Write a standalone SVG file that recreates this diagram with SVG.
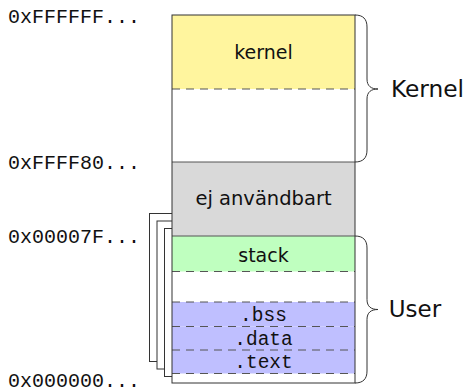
<svg xmlns="http://www.w3.org/2000/svg" width="467" height="392" viewBox="0 0 467 392">
<style>
.box{stroke:#333;stroke-width:1;}
.dash{stroke:#555;stroke-width:1;stroke-dasharray:8 6;fill:none;}
.sans{font-family:"DejaVu Sans",sans-serif;fill:#111;text-anchor:middle;}
.mono{font-family:"Liberation Mono","DejaVu Sans Mono",monospace;fill:#111;}
.brace{fill:none;stroke:#333;stroke-width:1;}
</style>
<rect width="467" height="392" fill="#fff"/>
<g id="processes">
<rect class="box" x="149.5" y="213.5" width="40" height="148" fill="#fff"/>
<rect class="box" x="157" y="221" width="40" height="148" fill="#fff"/>
<rect class="box" x="164.5" y="228.5" width="40" height="148" fill="#fff"/>
</g>
<g id="memory">
<rect x="172" y="15" width="183" height="368" fill="#fff"/>
<g id="kernel">
<rect x="172" y="15" width="183" height="74" fill="#FFF59E"/>
<text class="sans" x="263.5" y="59" font-size="19">kernel</text>
</g>
<g id="unused">
<rect x="172" y="162" width="183" height="74" fill="#D9D9D9"/>
<text class="sans" x="263.5" y="205" font-size="19.5">ej användbart</text>
</g>
<g id="stack">
<rect x="172" y="236" width="183" height="35.5" fill="#BFFFBF"/>
<text class="sans" x="263.5" y="261.5" font-size="19">stack</text>
</g>
<g id="bss">
<rect x="172" y="302" width="183" height="24.5" fill="#BFBFFF"/>
<text class="mono" x="263.5" y="321" font-size="19.5" text-anchor="middle">.bss</text>
</g>
<g id="data">
<rect x="172" y="326.5" width="183" height="23.5" fill="#BFBFFF"/>
<text class="mono" x="263.5" y="345" font-size="19.5" text-anchor="middle">.data</text>
</g>
<g id="textseg">
<rect x="172" y="350" width="183" height="23.5" fill="#BFBFFF"/>
<text class="mono" x="263.5" y="368" font-size="19.5" text-anchor="middle">.text</text>
</g>
<line class="dash" x1="172" y1="89" x2="355" y2="89"/>
<line class="dash" x1="172" y1="271.5" x2="355" y2="271.5"/>
<line class="dash" x1="172" y1="302" x2="355" y2="302"/>
<line class="dash" x1="172" y1="326.5" x2="355" y2="326.5"/>
<line class="dash" x1="172" y1="350" x2="355" y2="350"/>
<line class="dash" x1="172" y1="373.5" x2="355" y2="373.5"/>
<line x1="172" y1="162" x2="355" y2="162" stroke="#555" stroke-width="1"/>
<line x1="172" y1="236" x2="355" y2="236" stroke="#555" stroke-width="1"/>
<rect class="box" x="172" y="15" width="183" height="368" fill="none"/>
</g>
<g id="addresses">
<text class="mono" x="8" y="22.5" font-size="20">0xFFFFFF...</text>
<text class="mono" x="8" y="169" font-size="20">0xFFFF80...</text>
<text class="mono" x="8" y="243" font-size="20">0x00007F...</text>
<text class="mono" x="8" y="387" font-size="20">0x000000...</text>
</g>
<g id="connectors">
<path class="brace" d="M355,15 C363,15 367,19 367,27 L367,79 C367,86 371,89 378,89 C371,89 367,92 367,99 L367,150 C367,158 363,162 355,162"/>
<path class="brace" d="M355,236 C363,236 367,240 367,248 L367,299.5 C367,306.5 371,309.5 378,309.5 C371,309.5 367,312.5 367,319.5 L367,371 C367,379 363,383 355,383"/>
</g>
<g id="labels">
<text class="sans" x="427.5" y="97" font-size="23.3">Kernel</text>
<text class="sans" x="415" y="317" font-size="23">User</text>
</g>
</svg>
